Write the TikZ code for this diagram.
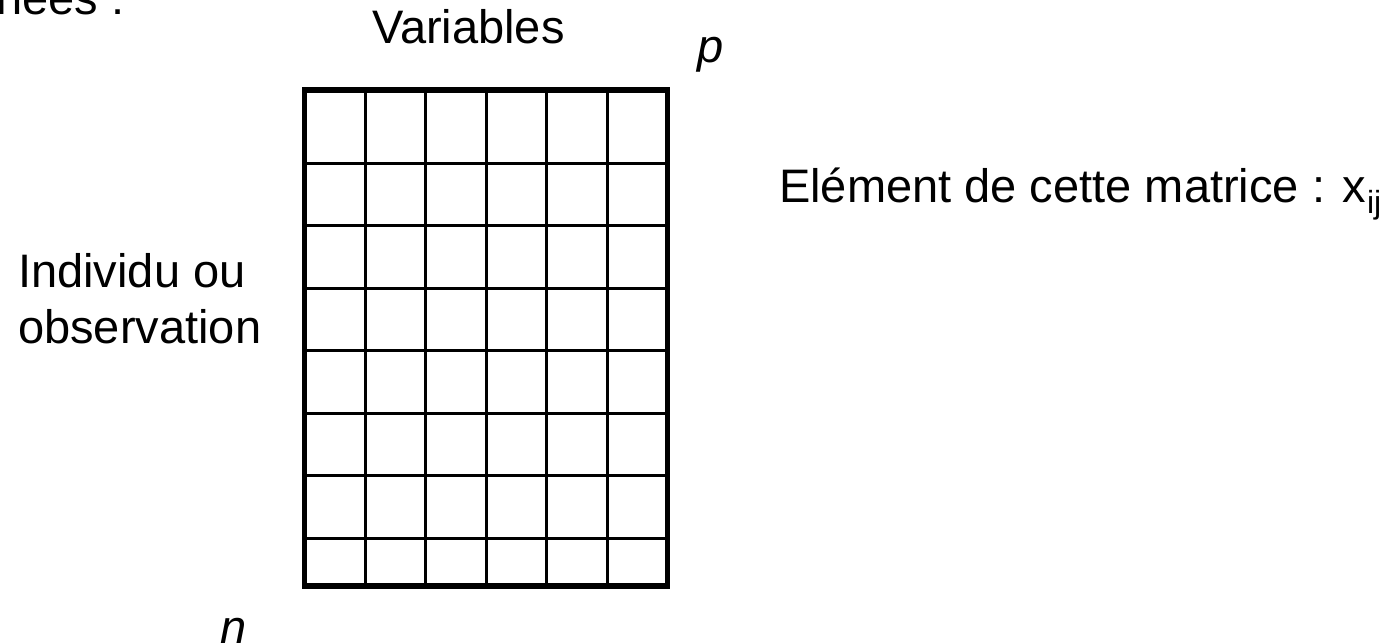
\documentclass[tikz,border=0pt]{standalone}
\usepackage{fontspec}
\setmainfont{Liberation Sans}
\begin{document}
\begin{tikzpicture}[x=1pt,y=-1pt,
  lbl/.style={inner sep=0pt, anchor=base west, font=\fontsize{47}{57}\selectfont},
  itlbl/.style={lbl, font=\fontsize{47}{57}\selectfont\itshape},
  gridline/.style={line width=3pt, black},
  frameline/.style={line width=5.5pt, black}]
\useasboundingbox (0,0) rectangle (1396,642);
% grid
\foreach \x in {365,425.5,486,546.5,607}
  \draw[gridline] (\x,90) -- (\x,586);
\foreach \y in {163,225.5,288,350.5,413,475.5,538}
  \draw[gridline] (304.5,\y) -- (667.5,\y);
\draw[frameline] (304.5,90) rectangle (667.5,586);
% texts
\node[lbl] (donnees) at (-4,15) {nées :};
\node[lbl] (variables) at (372,44) {Variables};
\node[itlbl] (p) at (697,63) {p};
\node[lbl] (indiv1) at (18,287) {Individu ou};
\node[lbl] (indiv2) at (18,343) {observation};
\node[lbl] (elem) at (779,202) {Elément de cette matrice : x\kern1pt\raisebox{-11pt}{\fontsize{32}{32}\selectfont ij}};
\node[itlbl] (n) at (220,643) {n};
\end{tikzpicture}
\end{document}
